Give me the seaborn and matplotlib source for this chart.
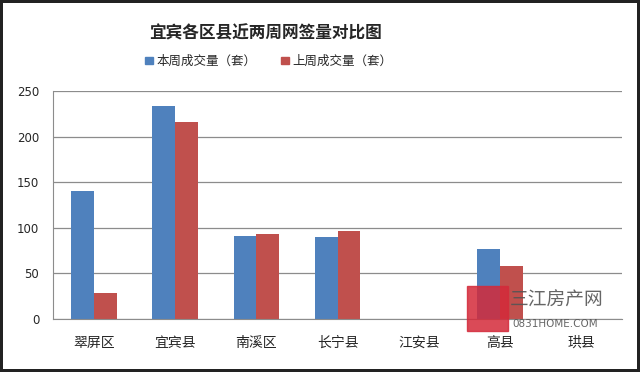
import pandas as pd
import matplotlib.pyplot as plt
import seaborn as sns
from matplotlib.patches import Rectangle

# data
districts = ['翠屏区', '宜宾县', '南溪区', '长宁县', '江安县', '高县', '珙县']
this_week = [140, 234, 91, 90, 0, 77, 0]
last_week = [28, 216, 93, 96, 0, 58, 0]
series_names = ['本周成交量（套）', '上周成交量（套）']
y_ticks = [0, 50, 100, 150, 200, 250]

df = pd.DataFrame({
    '区县': districts * 2,
    '套数': this_week + last_week,
    '周': [series_names[0]] * len(districts) + [series_names[1]] * len(districts),
})

sns.set_style('white')
plt.rcParams['font.family'] = ['Noto Sans CJK SC', 'DejaVu Sans']

fig = plt.figure(figsize=(6.4, 3.72), dpi=100)
fig.patch.set_edgecolor('#222222')
fig.patch.set_linewidth(3)
ax = fig.add_axes([0.083, 0.1425, 0.889, 0.6125])

sns.barplot(data=df, x='区县', y='套数', hue='周', palette=['#4F81BD', '#C0504D'],
            width=0.56, saturation=1, linewidth=0, ax=ax, legend=False)

ax.set_ylim(0, 250)
ax.set_xlim(-0.5, len(districts) - 0.5)
ax.set_yticks(y_ticks)
ax.set_xlabel('')
ax.set_ylabel('')
ax.yaxis.grid(True, color='#8c8c8c', linewidth=0.9)
ax.set_axisbelow(True)
for s in ['top', 'right']:
    ax.spines[s].set_visible(False)
ax.spines['left'].set_color('#8c8c8c')
ax.spines['bottom'].set_color('#8c8c8c')
ax.tick_params(axis='y', length=4, color='#8c8c8c', labelsize=8.5, pad=6)
ax.tick_params(axis='x', which='major', length=0, labelsize=10, pad=12)
ax.set_xticks([i + 0.5 for i in range(-1, len(districts))], minor=True)
ax.tick_params(axis='x', which='minor', length=5, color='#8c8c8c')
for lbl in ax.get_yticklabels():
    lbl.set_fontfamily('DejaVu Sans')

fig.text(0.415, 0.91, '宜宾各区县近两周网签量对比图', ha='center', va='center',
         fontsize=12, fontweight='bold')

# legend row
handles = [Rectangle((0, 0), 1, 1, color=c) for c in ['#4F81BD', '#C0504D']]
fig.legend(handles, series_names, loc='center', bbox_to_anchor=(0.42, 0.835),
           ncol=2, frameon=False, fontsize=9, handlelength=0.6, handleheight=0.6,
           handletextpad=0.3, columnspacing=2.0)

# watermark
fig.patches.append(Rectangle((0.73, 0.11), 0.064, 0.12, transform=fig.transFigure,
                             color='#d42a3a', alpha=0.85, zorder=5))
fig.text(0.797, 0.194, '三江房产网', fontsize=13.5, color='#555555', alpha=0.9,
         va='center', zorder=6)
fig.text(0.8, 0.128, '0831HOME.COM', fontsize=7.5, color='#555555', alpha=0.9,
         va='center', family='DejaVu Sans', zorder=6)

plt.savefig('out.png', dpi=100)
